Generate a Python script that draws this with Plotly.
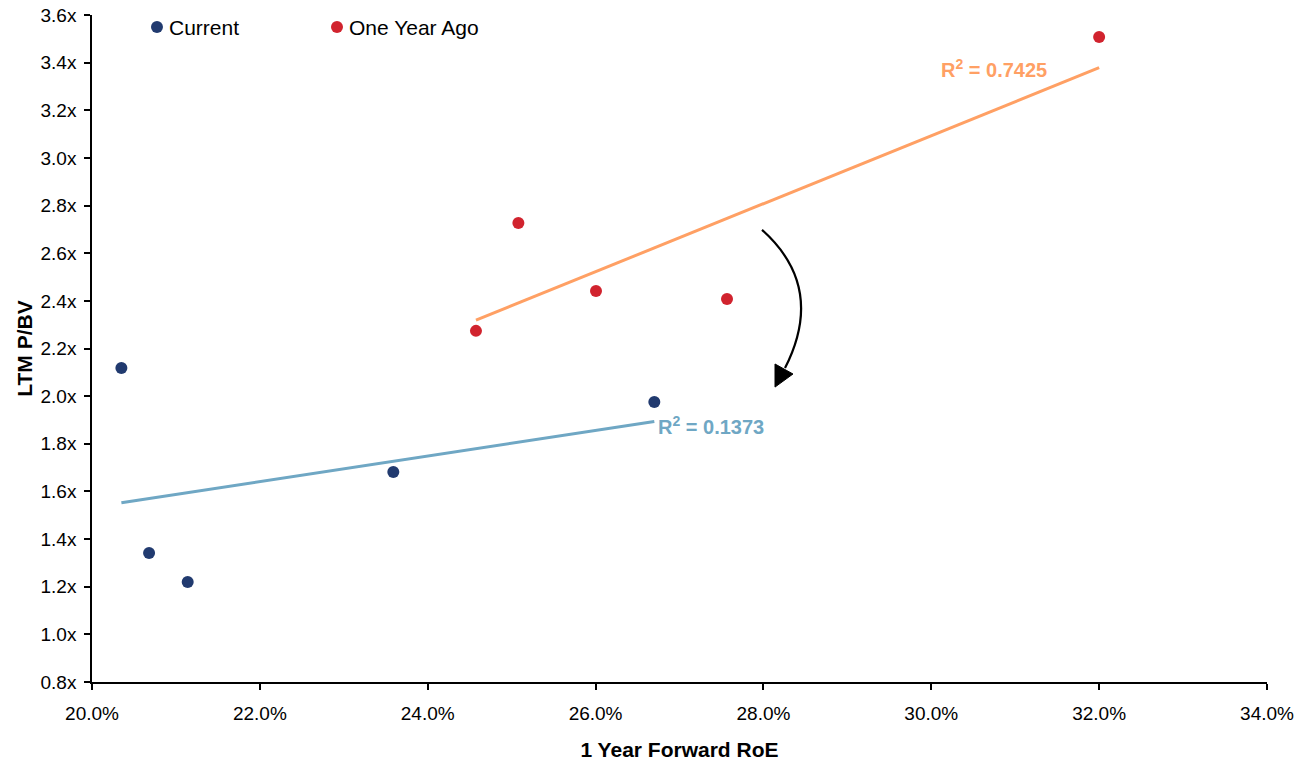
import numpy as np
import plotly.graph_objects as go

# Data (1 Year Forward RoE in %, LTM P/BV in x)
current_roe = [20.35, 20.68, 21.14, 23.59, 26.70]
current_pbv = [2.118, 1.342, 1.220, 1.682, 1.975]
year_ago_roe = [24.575, 25.08, 26.005, 27.566, 32.00]
year_ago_pbv = [2.274, 2.727, 2.441, 2.408, 3.508]
series_names = ["Current", "One Year Ago"]
r2_current = "R<sup>2</sup> = 0.1373"
r2_year_ago = "R<sup>2</sup> = 0.7425"

NAVY = "#213A6F"
RED = "#D1232E"
ORANGE = "#FFA064"
LBLUE = "#6FA7C4"
FONT = "Liberation Sans, Arial, sans-serif"


def trend(xs, ys):
    b, a = np.polyfit(xs, ys, 1)
    x0, x1 = min(xs), max(xs)
    return [x0, x1], [a + b * x0, a + b * x1]


fig = go.Figure()

tx, ty = trend(current_roe, current_pbv)
fig.add_trace(go.Scatter(x=tx, y=ty, mode="lines", line=dict(color=LBLUE, width=3),
                         showlegend=False, hoverinfo="skip"))
tx2, ty2 = trend(year_ago_roe, year_ago_pbv)
fig.add_trace(go.Scatter(x=tx2, y=ty2, mode="lines", line=dict(color=ORANGE, width=3),
                         showlegend=False, hoverinfo="skip"))

fig.add_trace(go.Scatter(x=current_roe, y=current_pbv, mode="markers", name=series_names[0],
                         marker=dict(color=NAVY, size=12), showlegend=False))
fig.add_trace(go.Scatter(x=year_ago_roe, y=year_ago_pbv, mode="markers", name=series_names[1],
                         marker=dict(color=RED, size=12), showlegend=False))

# Legend (drawn manually to match spacing)
legend_items = [(series_names[0], NAVY, 0.0553, 0.0638), (series_names[1], RED, 0.2085, 0.2170)]
for name, col, mx, tx_ in legend_items:
    fig.add_shape(type="circle", xref="paper", yref="paper", xsizemode="pixel", ysizemode="pixel",
                  xanchor=mx, yanchor=0.982, x0=-6, x1=6, y0=-6, y1=6,
                  fillcolor=col, line=dict(color=col, width=0))
    fig.add_annotation(x=tx_, y=0.982, xref="paper", yref="paper", text=name, showarrow=False,
                       xanchor="left", yanchor="middle",
                       font=dict(size=21, family=FONT, color="black"))

# R^2 labels
fig.add_annotation(x=tx[1], y=ty[1], text="<b>" + r2_current + "</b>", showarrow=False,
                   xanchor="left", yanchor="middle", xshift=2, yshift=-4,
                   font=dict(color=LBLUE, size=20, family=FONT))
fig.add_annotation(x=tx2[1], y=ty2[1], text="<b>" + r2_year_ago + "</b>", showarrow=False,
                   xanchor="right", yanchor="middle", xshift=-50, yshift=-1,
                   font=dict(color=ORANGE, size=20, family=FONT))

# Curved arrow
fig.add_shape(type="path", xref="x", yref="y",
              path="M 27.983 2.698 C 28.45 2.551, 28.61 2.362, 28.257 2.118",
              line=dict(color="black", width=2.2))
fig.add_shape(type="path", xref="x", yref="y",
              path="M 28.138 2.038 L 28.138 2.135 L 28.352 2.093 Z",
              line=dict(color="black", width=1), fillcolor="black")

axis_common = dict(showgrid=False, zeroline=False, showline=True, linecolor="black",
                   linewidth=1.5, ticks="outside", ticklen=6, tickwidth=1.5,
                   tickcolor="black", ticklabeloverflow="allow",
                   tickfont=dict(size=19, family=FONT, color="black"))

fig.update_xaxes(range=[20, 34], dtick=2, tickformat=".1f", ticksuffix="%",
                 ticklabelstandoff=7,
                 title=dict(text="<b>1 Year Forward RoE</b>", standoff=24,
                            font=dict(size=21, family=FONT, color="black")),
                 **axis_common)
fig.update_yaxes(range=[0.8, 3.6], dtick=0.2, tickformat=".1f", ticksuffix="x",
                 ticklabelstandoff=4,
                 title=dict(text="<b>LTM P/BV</b>", standoff=2,
                            font=dict(size=21, family=FONT, color="black")),
                 **axis_common)

fig.update_layout(
    width=1299, height=761,
    margin=dict(l=92, r=32, t=15, b=79, autoexpand=False),
    paper_bgcolor="white", plot_bgcolor="white",
    font=dict(family=FONT, size=19, color="black"),
    showlegend=False,
)

fig.write_html("out.html", config={"displayModeBar": False},
               post_script="document.body.style.margin='0px';")
